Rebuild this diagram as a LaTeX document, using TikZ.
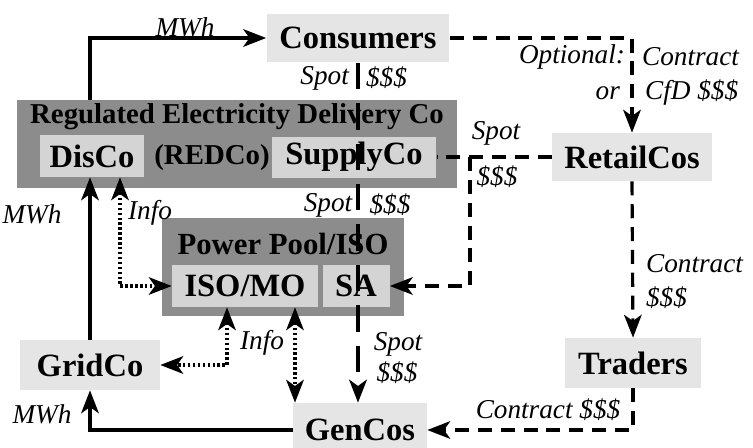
\documentclass[tikz,border=0pt]{standalone}
\usepackage{fontspec}
\setmainfont{Liberation Serif}
\usepackage{tikz}
\usetikzlibrary{arrows.meta,calc,positioning}

\begin{document}
\begin{tikzpicture}[x=0.02cm,y=-0.02cm,>={Stealth[length=13pt,width=10pt,inset=3.5pt]},
        ent/.style={fill=black!10,font=\bfseries\fontsize{18.5}{20}\selectfont,inner sep=0pt},
        sub/.style={ent,fill=black!17},
        grp/.style={fill=black!45,inner sep=0pt},
        ttl/.style={font=\bfseries\fontsize{16.4}{18}\selectfont,inner sep=0pt},
        lab/.style={font=\itshape\fontsize{15.5}{17}\selectfont,inner sep=1pt},
        mwh/.style={line width=1.9pt},
        spot/.style={line width=2.8pt,dash pattern=on 15pt off 8pt},
        ctr/.style={line width=1.8pt,dash pattern=on 8pt off 5pt},
        info/.style={line width=1.8pt,dash pattern=on 1.4pt off 1.4pt}]
        \useasboundingbox (0,0) rectangle (753,447);
        % market players
        \node[ent,minimum width=3.66cm,minimum height=0.98cm] (cons) at (358,38) {Consumers};
        \node[ent,minimum width=3.2cm,minimum height=0.96cm] (retail) at (632,157) {RetailCos};
        \node[ent,minimum width=2.74cm,minimum height=1cm] (traders) at (633,363) {Traders};
        \node[ent,minimum width=2.8cm,minimum height=1cm] (gridco) at (90,365) {GridCo};
        \node[ent,minimum width=2.68cm,minimum height=1.08cm] (gencos) at (360,430) {GenCos};
        % REDCo
        \node[grp,minimum width=8.8cm,minimum height=1.76cm] (redco) at (237,144) {};
        \node[ttl] (redcot) at (237,117) {Regulated Electricity Delivery Co};
        \node[sub,minimum width=2.1cm,minimum height=0.84cm] (disco) at (92,156) {DisCo};
        \node[ttl] (redcon) at (212,158) {(REDCo)};
        \node[sub,minimum width=3.3cm,minimum height=0.82cm] (supply) at (354,157) {SupplyCo};
        % pool
        \node[grp,minimum width=4.86cm,minimum height=1.98cm] (pool) at (283,267) {};
        \node[ttl,font=\bfseries\fontsize{17.5}{19}\selectfont] (poolt) at (283,244) {Power Pool/ISO};
        \node[sub,minimum width=2.92cm,minimum height=0.84cm] (isomo) at (245,286) {ISO/MO};
        \node[sub,minimum width=1.34cm,minimum height=0.84cm] (sa) at (356,286) {SA};
        % energy
        \draw[mwh,->] (redco.north -| gridco) |- (cons.west);
        \node[lab] (mwha) at (185,27) {MWh};
        \draw[mwh,->] (gencos.west) -| (gridco.south);
        \node[lab] (mwhb) at (42,414) {MWh};
        \draw[mwh,->] (gridco.north) -- (gridco.north |- disco.south);
        \node[lab] (mwhc) at (32,214) {MWh};
        % spot money
        \draw[spot,->] (cons.south) -- (gencos.north -| cons.south);
        \node[lab,anchor=east] (spa) at (351,78) {Spot};
        \node[lab,anchor=west] (spb) at (364,78) {\$\$\$};
        \node[lab] (spc) at (328,205) {Spot};
        \node[lab] (spd) at (390,205) {\$\$\$};
        \node[lab] (spe) at (398,344) {Spot};
        \node[lab] (spf) at (397,373) {\$\$\$};
        % contracts
        \coordinate (j1) at (470,157);
        \draw[ctr] (retail.west) -- (supply.east);
        \draw[ctr,->] (j1) |- (sa.east);
        \node[lab] (spg) at (496,133) {Spot};
        \node[lab] (sph) at (497,177) {\$\$\$};
        \draw[ctr,->] (cons.east) -| (retail.north);
        \node[lab,anchor=east] (opt) at (627,57) {Optional:};
        \node[lab,anchor=west] (cta) at (640,57) {Contract};
        \node[lab,anchor=east] (orl) at (622,93) {or};
        \node[lab,anchor=west] (cfd) at (643,93) {CfD \$\$\$};
        \draw[ctr,->] (retail.south) -- (traders.north);
        \node[lab,anchor=west] (ctb) at (644,264) {Contract};
        \node[lab,anchor=west] (ctc) at (644,298) {\$\$\$};
        \draw[ctr,->] (traders.south) |- (gencos.east);
        \node[lab] (ctd) at (548,410) {Contract \$\$\$};
        % info
        \coordinate (i1) at ($(disco.south)+(28,0)$);
        \draw[info,<->] (i1) |- (isomo.west);
        \node[lab] (infa) at (150,213) {Info};
        \coordinate (i2) at ($(isomo.south)+(-18,0)$);
        \draw[info,<->] (i2) |- (gridco.east);
        \node[lab] (infb) at (262,343) {Info};
        \coordinate (i3) at ($(isomo.south)+(50,0)$);
        \draw[info,<->] (i3) -- (i3 |- gencos.north);
      \end{tikzpicture}
\end{document}
